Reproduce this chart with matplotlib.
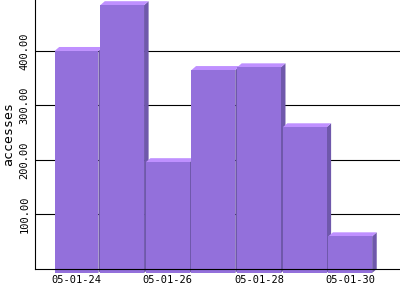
import matplotlib
matplotlib.use("Agg")
import matplotlib.pyplot as plt
from matplotlib.patches import Polygon, Rectangle

# data
dates = ["05-01-24", "05-01-25", "05-01-26", "05-01-27", "05-01-28", "05-01-29", "05-01-30"]
accesses = [400, 484, 196, 365, 370, 260, 60]
yticks = [100, 200, 300, 400]

front_col = "#9370DB"
top_col = "#BF90FF"
side_col = "#6F58AB"

fig = plt.figure(figsize=(4, 3), dpi=100)
ax = fig.add_axes([35 / 400, 31 / 300, 365 / 400, 269 / 300])

ax.set_xlim(-0.91, 7.09)
ax.set_ylim(0, 493.5)

# 3d depth offsets
dx = 0.1
dy = 7.3
w = 0.96

for i, h in enumerate(accesses):
    x0 = i - w / 2
    x1 = i + w / 2
    side = Polygon([(x1, -dy), (x1 + dx, 0), (x1 + dx, h + dy), (x1, h)],
                   closed=True, facecolor=side_col, edgecolor="none", zorder=2, clip_on=False)
    top = Polygon([(x0, h), (x1, h), (x1 + dx, h + dy), (x0 + dx, h + dy)],
                  closed=True, facecolor=top_col, edgecolor="none", zorder=2, clip_on=False)
    front = Rectangle((x0, -dy), w, h + dy, facecolor=front_col, edgecolor="none",
                      zorder=2, clip_on=False)
    ax.add_patch(side)
    ax.add_patch(top)
    ax.add_patch(front)

for y in yticks:
    ax.axhline(y, color="black", linewidth=0.8, zorder=1)

ax.set_yticks(yticks)
ax.set_yticklabels([f"{v:.2f}" for v in yticks], rotation=90, va="center",
                   family="DejaVu Sans Mono", fontsize=7.5)
ax.set_xticks(range(0, len(dates), 2))
ax.set_xticklabels(dates[::2], family="DejaVu Sans Mono", fontsize=7.5)
ax.tick_params(length=0, pad=4)
ax.set_ylabel("accesses", family="DejaVu Sans Mono", fontsize=9.5, labelpad=3)

ax.spines["top"].set_visible(False)
ax.spines["right"].set_visible(False)
ax.spines["left"].set_linewidth(0.8)
ax.spines["bottom"].set_linewidth(0.8)
ax.spines["left"].set_zorder(5)
ax.spines["bottom"].set_zorder(5)

fig.savefig("out.png", dpi=100)
